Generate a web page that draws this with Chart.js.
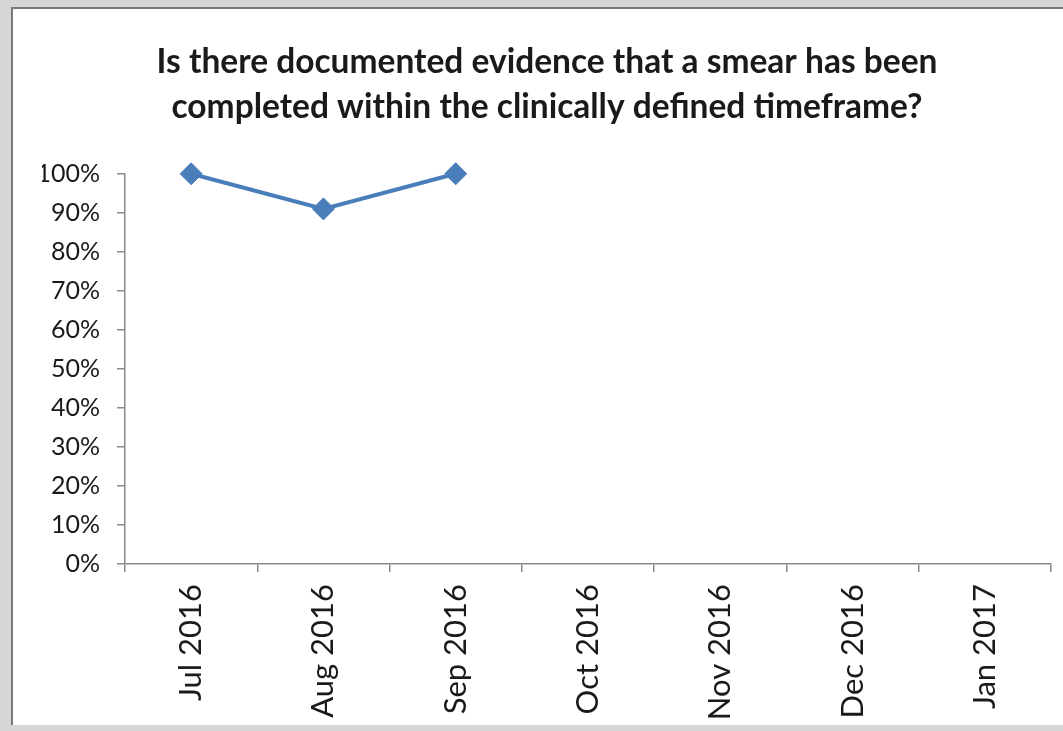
<!DOCTYPE html>
<html>
<head>
<meta charset="utf-8">
<script src="https://cdn.jsdelivr.net/npm/chart.js@4"></script>
<style>
  html, body { margin: 0; padding: 0; }
  body { width: 1063px; height: 731px; background: #d6d6d6; position: relative; overflow: hidden; }
  #panel { position: absolute; left: 11px; top: 7px; width: 1052px; height: 718px; background: #ffffff;
           border-top: 2px solid #7a7a7a; border-left: 2px solid #7a7a7a; box-sizing: border-box; }
  #wrap { position: absolute; left: 0; top: 0; width: 1063px; height: 731px; }
</style>
</head>
<body>
<div id="panel"></div>
<div id="wrap"><canvas id="c" width="1063" height="731"></canvas></div>
<script>
const titleLines = ["Is there documented evidence that a smear has been", "completed within the clinically defined timeframe?"];
const categories = ["Jul 2016", "Aug 2016", "Sep 2016", "Oct 2016", "Nov 2016", "Dec 2016", "Jan 2017"];
const seriesValues = [100, 91, 100, null, null, null, null];
const yTickStep = 10;
const yMax = 100;

new Chart(document.getElementById('c'), {
  type: 'line',
  data: {
    labels: categories,
    datasets: [{
      data: seriesValues,
      borderColor: '#4a7ebb',
      backgroundColor: '#4a7ebb',
      borderWidth: 4,
      pointStyle: 'rectRot',
      pointRadius: 11,
      pointHoverRadius: 11,
      pointBorderWidth: 1,
      pointBorderColor: '#4a7ebb',
      tension: 0,
      clip: false,
      spanGaps: false
    }]
  },
  options: {
    responsive: false,
    animation: false,
    layout: { padding: { left: 42, right: 11, top: 0, bottom: 0 } },
    plugins: {
      legend: { display: false },
      tooltip: { enabled: false },
      title: {
        display: true,
        text: titleLines,
        color: '#1a1a1a',
        font: { family: 'Lato', size: 33.5, weight: 'bold', lineHeight: 1.34 },
        padding: { top: 40, bottom: 44 }
      }
    },
    scales: {
      x: {
        type: 'category',
        offset: true,
        grid: { display: true, offset: true, drawOnChartArea: false, drawTicks: true, tickLength: 8, color: '#8a8a8a', lineWidth: 1.5 },
        border: { display: true, color: '#8a8a8a', width: 1.5 },
        ticks: { minRotation: 90, maxRotation: 90, autoSkip: false, padding: 12, color: '#1a1a1a',
                 font: { family: 'Lato', size: 31 } },
        afterFit: function(scale) { scale.height = 167; }
      },
      y: {
        min: 0,
        max: yMax,
        grid: { display: true, drawOnChartArea: false, drawTicks: true, tickLength: 8, color: '#8a8a8a', lineWidth: 1.5 },
        border: { display: true, color: '#8a8a8a', width: 1.5 },
        ticks: { stepSize: yTickStep, padding: 17, color: '#1a1a1a',
                 font: { family: 'Lato', size: 25 },
                 callback: function(v) { return v + '%'; } },
        afterFit: function(scale) { scale.width = 83; }
      }
    }
  }
});
</script>
</body>
</html>
